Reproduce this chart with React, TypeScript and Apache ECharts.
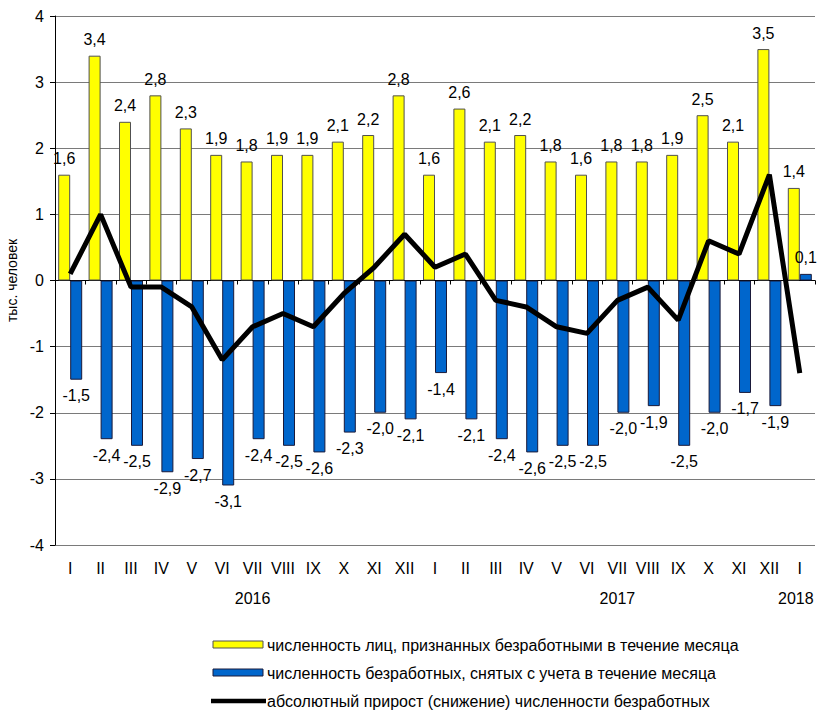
import React, { useEffect, useRef } from "react";
import * as echarts from "echarts";

const months = [
  "I", "II", "III", "IV", "V", "VI", "VII", "VIII", "IX", "X", "XI", "XII",
  "I", "II", "III", "IV", "V", "VI", "VII", "VIII", "IX", "X", "XI", "XII",
  "I",
];
const yearLabels = [
  "", "", "", "", "", "", "2016", "", "", "", "", "",
  "", "", "", "", "", "", "2017", "", "", "", "", "",
  "2018",
];
const registered = [
  1.6, 3.4, 2.4, 2.8, 2.3, 1.9, 1.8, 1.9, 1.9, 2.1, 2.2, 2.8,
  1.6, 2.6, 2.1, 2.2, 1.8, 1.6, 1.8, 1.8, 1.9, 2.5, 2.1, 3.5,
  1.4,
];
const removed = [
  -1.5, -2.4, -2.5, -2.9, -2.7, -3.1, -2.4, -2.5, -2.6, -2.3, -2.0, -2.1,
  -1.4, -2.1, -2.4, -2.6, -2.5, -2.5, -2.0, -1.9, -2.5, -2.0, -1.7, -1.9,
  0.1,
];
const growth = [
  0.1, 1.0, -0.1, -0.1, -0.4, -1.2, -0.7, -0.5, -0.7, -0.2, 0.2, 0.7,
  0.2, 0.4, -0.3, -0.4, -0.7, -0.8, -0.3, -0.1, -0.6, 0.6, 0.4, 1.6,
  -1.4,
];
const yTicks = { min: -4, max: 4, interval: 1 };

const nameRegistered = "численность лиц, признанных безработными в течение месяца";
const nameRemoved = "численность безработных, снятых с учета в течение месяца";
const nameGrowth = "абсолютный прирост (снижение) численности безработных";

const FONT = "'Liberation Sans', Arial, sans-serif";
const fmt = (v: number) => v.toFixed(1).replace(".", ",");

const YELLOW = "#FFFF00";
const BLUE = "#0066CC";

export default function App() {
  const ref = useRef<HTMLDivElement>(null);
  useEffect(() => {
    document.body.style.margin = "0";
    if (!ref.current) return;
    const chart = echarts.init(ref.current, undefined, { renderer: "svg" });
    const labelBase = {
      show: true,
      fontSize: 16,
      color: "#000",
      fontFamily: FONT,
      distance: 8,
      formatter: (p: any) => fmt(p.value),
    };
    const legendText = (text: string, y: number) => ({
      type: "text",
      x: 267,
      y,
      style: {
        text,
        fill: "#000",
        font: `16px ${FONT}`,
        align: "left",
        verticalAlign: "middle",
      },
    });
    const yearData = yearLabels.map((v, i) =>
      i === yearLabels.length - 1
        ? { value: v, textStyle: { padding: [0, 8, 0, 0] } }
        : v
    );
    chart.setOption({
      animation: false,
      textStyle: { fontFamily: FONT, color: "#000" },
      grid: {
        left: 55,
        right: 2,
        top: 16,
        bottom: 165,
        containLabel: false,
        outerBoundsMode: "none",
      },
      legend: { show: false, data: [nameRegistered, nameRemoved, nameGrowth] },
      graphic: [
        {
          type: "rect",
          shape: { x: 213, y: 641, width: 50, height: 7 },
          style: { fill: YELLOW, stroke: "#505050", lineWidth: 1 },
        },
        legendText(nameRegistered, 645),
        {
          type: "rect",
          shape: { x: 213, y: 669, width: 50, height: 7 },
          style: { fill: BLUE, stroke: "#1a1a3a", lineWidth: 1 },
        },
        legendText(nameRemoved, 673),
        {
          type: "line",
          shape: { x1: 211, y1: 701, x2: 266, y2: 701 },
          style: { stroke: "#000", lineWidth: 4.5 },
        },
        legendText(nameGrowth, 701),
      ],
      xAxis: [
        {
          type: "category",
          data: months,
          position: "bottom",
          axisLine: { show: true, onZero: true, lineStyle: { color: "#000", width: 1 } },
          axisTick: { show: true, length: 4, lineStyle: { color: "#000" } },
          axisLabel: { show: false },
          splitLine: { show: false },
        },
        {
          type: "category",
          data: months,
          position: "bottom",
          axisLine: { show: false, onZero: false },
          axisTick: { show: false },
          axisLabel: { show: true, interval: 0, fontSize: 16, color: "#000", margin: 15, fontFamily: FONT },
        },
        {
          type: "category",
          data: yearData,
          position: "bottom",
          axisLine: { show: false, onZero: false },
          axisTick: { show: false },
          axisLabel: { show: true, interval: 0, fontSize: 16, color: "#000", margin: 45, fontFamily: FONT },
        },
      ],
      yAxis: {
        type: "value",
        min: yTicks.min,
        max: yTicks.max,
        interval: yTicks.interval,
        name: "тыс. человек",
        nameLocation: "middle",
        nameRotate: 90,
        nameGap: 36,
        nameTextStyle: { fontSize: 14, color: "#000", fontFamily: FONT },
        axisLine: { show: true, lineStyle: { color: "#000", width: 1 } },
        axisTick: { show: true, length: 5, lineStyle: { color: "#000" } },
        axisLabel: { fontSize: 16, color: "#000", margin: 11, fontFamily: FONT },
        splitLine: { show: true, lineStyle: { color: "#7a7a7a", width: 1 } },
      },
      series: [
        {
          name: nameRegistered,
          type: "bar",
          xAxisIndex: 0,
          barWidth: 12,
          barGap: "0%",
          data: registered,
          itemStyle: { color: YELLOW, borderColor: "#505050", borderWidth: 1 },
          label: { ...labelBase, position: "top" },
          z: 2,
        },
        {
          name: nameRemoved,
          type: "bar",
          xAxisIndex: 0,
          barWidth: 12,
          barGap: "0%",
          data: removed.map((v) => ({
            value: v,
            label: { position: v >= 0 ? "top" : "bottom" },
          })),
          itemStyle: { color: BLUE, borderColor: "#1a1a3a", borderWidth: 1 },
          label: { ...labelBase },
          z: 2,
        },
        {
          name: nameGrowth,
          type: "line",
          xAxisIndex: 0,
          data: growth,
          symbol: "none",
          lineStyle: { color: "#000", width: 5 },
          itemStyle: { color: "#000" },
          z: 5,
        },
      ],
    });
    return () => chart.dispose();
  }, []);
  return <div ref={ref} style={{ width: 817, height: 710 }} />;
}
